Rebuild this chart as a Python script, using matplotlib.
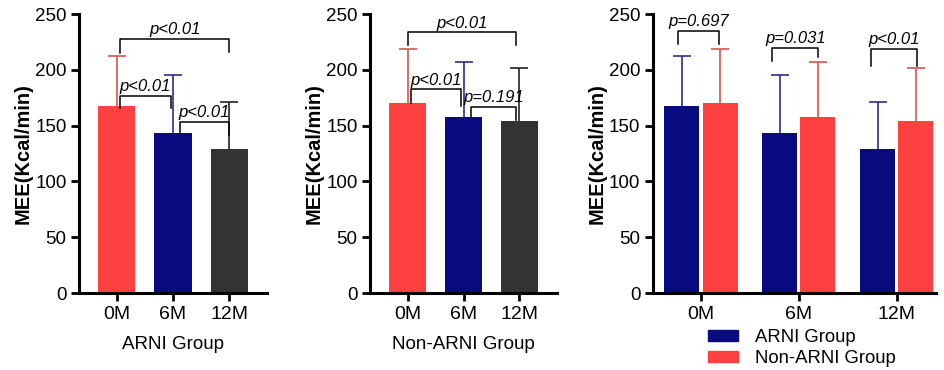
import numpy as np
import matplotlib
matplotlib.use("Agg")
import matplotlib.pyplot as plt
from matplotlib.patches import Patch

plt.rcParams["font.family"] = ["Liberation Sans", "DejaVu Sans"]

months = ["0M", "6M", "12M"]
arni_mean = [167.6, 143.0, 129.0]
arni_sd = [45.0, 52.0, 42.0]
non_mean = [170.0, 158.0, 154.0]
non_sd = [49.0, 49.0, 48.0]

RED = "#ff4040"
NAVY = "#0a0a80"
GREY = "#333333"
bar_colors = [RED, NAVY, GREY]
err_colors = ["#d9534f", "#2e2e8c", "#222222"]

# brackets: (left x, right x, level, left leg bottom, right leg bottom, label)
arni_brackets = [
    (0.06, 2.0, 227.5, 215, 216, "p<0.01"),
    (0.06, 0.96, 176.5, 166, 166, "p<0.01"),
    (1.12, 2.0, 153.5, 143.5, 141.5, "p<0.01"),
]
non_brackets = [
    (0.01, 1.93, 233.5, 222, 222, "p<0.01"),
    (0.07, 0.96, 182.5, 170, 167.5, "p<0.01"),
    (1.14, 1.94, 167.0, 157.5, 155, "p=0.191"),
]
cmp_brackets = [
    (-0.235, 0.18, 234.8, 223, 223, "p=0.697"),
    (0.73, 1.2, 220.0, 208, 211.5, "p=0.031"),
    (1.735, 2.21, 219.0, 203.5, 203.5, "p<0.01"),
]


def style_axis(ax):
    ax.spines["top"].set_visible(False)
    ax.spines["right"].set_visible(False)
    ax.spines["left"].set_linewidth(2.2)
    ax.spines["bottom"].set_linewidth(2.2)
    ax.tick_params(width=2.0, length=6, pad=3)
    ax.tick_params(axis="y", labelsize=13.5)
    ax.tick_params(axis="x", labelsize=14)
    ax.set_ylim(0, 250)
    ax.set_yticks([0, 50, 100, 150, 200, 250])
    ax.set_ylabel("MEE(Kcal/min)", fontsize=14.5, fontweight="bold", labelpad=2)


def draw_brackets(ax, brackets):
    for x1, x2, lvl, b1, b2, lab in brackets:
        ax.plot([x1, x1, x2, x2], [b1, lvl, lvl, b2], color="black", lw=1.1,
                clip_on=False, zorder=5)
        ax.text((x1 + x2) / 2, lvl + 1.5, lab, ha="center", va="bottom",
                fontsize=12, style="italic", clip_on=False, zorder=5)


fig = plt.figure(figsize=(9.44, 3.70), dpi=100)
x = np.arange(len(months))

panels = [
    ([0.0837, 0.208, 0.199, 0.754], arni_mean, arni_sd, arni_brackets, "ARNI Group"),
    ([0.392, 0.208, 0.198, 0.754], non_mean, non_sd, non_brackets, "Non-ARNI Group"),
]
for rect, mean, sd, brk, title in panels:
    ax = fig.add_axes(rect)
    ax.bar(x, mean, width=0.66, color=bar_colors, zorder=2)
    for i in range(len(months)):
        ax.errorbar(x[i], mean[i], yerr=sd[i], color=err_colors[i],
                    capsize=6.5, elinewidth=1.2, capthick=1.2, zorder=1)
    ax.set_xlim(-0.67, 2.67)
    ax.set_xticks(x)
    ax.set_xticklabels(months)
    style_axis(ax)
    ax.set_xlabel(title, fontsize=13.5, labelpad=10)
    draw_brackets(ax, brk)

ax = fig.add_axes([0.6917, 0.208, 0.2998, 0.754])
w = 0.357
off = 0.195
ax.bar(x - off, arni_mean, width=w, color=NAVY, zorder=2)
ax.bar(x + off, non_mean, width=w, color=RED, zorder=2)
ax.errorbar(x - off, arni_mean, yerr=arni_sd, fmt="none",
            ecolor="#2e2e8c", capsize=6.5, elinewidth=1.2, capthick=1.2, zorder=1)
ax.errorbar(x + off, non_mean, yerr=non_sd, fmt="none",
            ecolor="#d9534f", capsize=6.5, elinewidth=1.2, capthick=1.2, zorder=1)
ax.set_xlim(-0.49, 2.4)
ax.set_xticks(x)
ax.set_xticklabels(months)
style_axis(ax)
draw_brackets(ax, cmp_brackets)

handles = [Patch(color=NAVY, label="ARNI Group"), Patch(color=RED, label="Non-ARNI Group")]
fig.legend(handles=handles, loc="upper left", bbox_to_anchor=(0.75, 0.11),
           frameon=False, fontsize=13.3, handlelength=1.65, handleheight=0.55,
           handletextpad=0.9, labelspacing=0.22, borderpad=0, borderaxespad=0)

fig.savefig("out.png", dpi=100)
